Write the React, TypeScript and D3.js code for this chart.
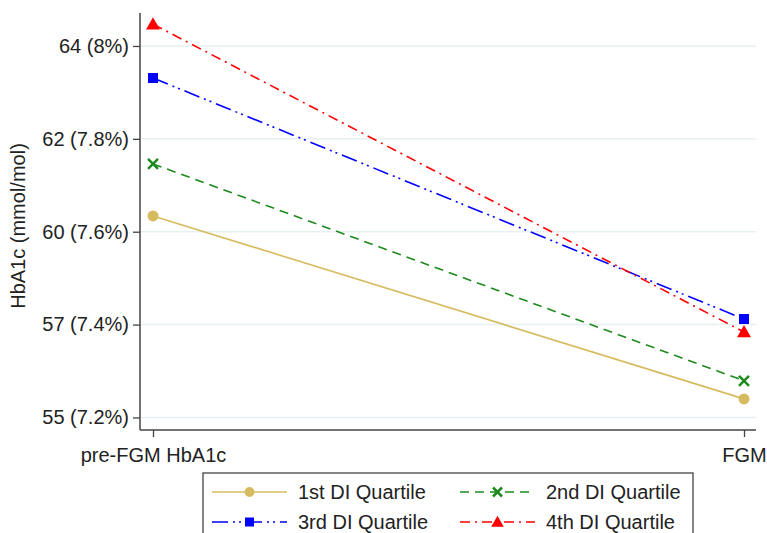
import React, { useEffect, useRef } from 'react';
import * as d3 from 'd3';

// HbA1c in %
const timepoints = ['pre-FGM HbA1c', 'FGM'];
const q1 = [7.634, 7.240];
const q2 = [7.746, 7.279];
const q3 = [7.931, 7.412];
const q4 = [8.047, 7.384];
const yTicks = [7.2, 7.4, 7.6, 7.8, 8.0];
const yTickLabels = ['55 (7.2%)', '57 (7.4%)', '60 (7.6%)', '62 (7.8%)', '64 (8%)'];

const seriesList = [
    { name: '1st DI Quartile', values: q1, color: '#d6bb5e', dash: null, marker: 'circle' },
    { name: '2nd DI Quartile', values: q2, color: '#1c8a1c', dash: '9,6', marker: 'cross' },
    { name: '3rd DI Quartile', values: q3, color: '#0000ff', dash: '16,5,2,4,2,5', marker: 'square' },
    { name: '4th DI Quartile', values: q4, color: '#ff0000', dash: '10,5,2,5', marker: 'triangle' },
];

const W = 767;
const H = 533;
const FONT = 'Liberation Sans, Arial, sans-serif';
const FS = 20;

const App = () => {
    const svgRef = useRef<SVGSVGElement>(null);

    useEffect(() => {
        const svg = d3.select(svgRef.current);
        svg.selectAll('*').remove();

        const left = 140, right = 756, top = 13, bottom = 430;

        const x = d3.scalePoint().domain(timepoints).range([153, 744]);
        const y = d3.scaleLinear().domain([7.173, 8.071]).range([bottom, top]);

        // gridlines
        svg.append('g')
            .selectAll('line')
            .data(yTicks)
            .enter()
            .append('line')
            .attr('x1', left)
            .attr('x2', right)
            .attr('y1', d => y(d))
            .attr('y2', d => y(d))
            .attr('stroke', '#e6eff1')
            .attr('stroke-width', 1.5);

        // y axis
        const yAxis = svg.append('g')
            .attr('transform', `translate(${left},0)`)
            .call(d3.axisLeft(y).tickValues(yTicks).tickSize(7).tickPadding(4)
                .tickFormat((d, i) => yTickLabels[i]));
        yAxis.select('.domain').remove();
        yAxis.selectAll('line').attr('stroke', '#444').attr('stroke-width', 1.3);
        yAxis.selectAll('text').attr('font-size', FS).attr('font-family', FONT).attr('fill', '#222');
        svg.append('line')
            .attr('x1', left).attr('x2', left).attr('y1', top).attr('y2', bottom)
            .attr('stroke', '#444').attr('stroke-width', 1.5);

        // x axis
        const xAxis = svg.append('g')
            .attr('transform', `translate(0,${bottom})`)
            .call(d3.axisBottom(x).tickSize(7).tickPadding(11));
        xAxis.select('.domain').remove();
        xAxis.selectAll('line').attr('stroke', '#444').attr('stroke-width', 1.3);
        xAxis.selectAll('text').attr('font-size', FS).attr('font-family', FONT).attr('fill', '#222');
        svg.append('line')
            .attr('x1', left).attr('x2', right).attr('y1', bottom).attr('y2', bottom)
            .attr('stroke', '#444').attr('stroke-width', 1.5);

        // y title
        svg.append('text')
            .attr('transform', `translate(25,226) rotate(-90)`)
            .attr('text-anchor', 'middle')
            .attr('font-size', FS)
            .attr('font-family', FONT)
            .attr('fill', '#222')
            .text('HbA1c (mmol/mol)');

        const drawMarker = (g, type, cx, cy, color, scale = 1) => {
            if (type === 'circle') {
                g.append('circle').attr('cx', cx).attr('cy', cy).attr('r', 5.5 * scale).attr('fill', color);
            } else if (type === 'square') {
                const s = 10 * scale;
                g.append('rect').attr('x', cx - s / 2).attr('y', cy - s / 2).attr('width', s).attr('height', s).attr('fill', color);
            } else if (type === 'triangle') {
                const s = 7 * scale;
                g.append('path')
                    .attr('d', `M${cx},${cy - s}L${cx + s * 1.0},${cy + s * 0.75}L${cx - s * 1.0},${cy + s * 0.75}Z`)
                    .attr('fill', color);
            } else if (type === 'cross') {
                const s = 5 * scale;
                g.append('path')
                    .attr('d', `M${cx - s},${cy - s}L${cx + s},${cy + s}M${cx - s},${cy + s}L${cx + s},${cy - s}`)
                    .attr('stroke', color).attr('stroke-width', 2.5);
            }
        };

        const line = d3.line<number>()
            .x((d, i) => x(timepoints[i]))
            .y(d => y(d));

        seriesList.forEach(s => {
            const g = svg.append('g');
            g.append('path')
                .datum(s.values)
                .attr('d', line)
                .attr('fill', 'none')
                .attr('stroke', s.color)
                .attr('stroke-width', 1.6)
                .attr('stroke-dasharray', s.dash);
            s.values.forEach((v, i) => drawMarker(g, s.marker, x(timepoints[i]), y(v), s.color));
        });

        // legend
        const lg = svg.append('g');
        lg.append('rect')
            .attr('x', 203).attr('y', 473).attr('width', 490).attr('height', 75)
            .attr('fill', 'white').attr('stroke', '#444').attr('stroke-width', 1.3);
        const cols = [212, 460];
        const rows = [492, 522];
        seriesList.forEach((s, i) => {
            const lx = cols[i % 2];
            const ly = rows[Math.floor(i / 2)];
            lg.append('line')
                .attr('x1', lx).attr('x2', lx + 75).attr('y1', ly).attr('y2', ly)
                .attr('stroke', s.color).attr('stroke-width', 1.6)
                .attr('stroke-dasharray', s.dash);
            drawMarker(lg, s.marker, lx + 37.5, ly, s.color, 0.9);
            lg.append('text')
                .attr('x', lx + 86).attr('y', ly).attr('dy', '0.35em')
                .attr('font-size', FS).attr('font-family', FONT).attr('fill', '#222')
                .text(s.name);
        });
    }, []);

    return (
        <svg ref={svgRef} width={W} height={H}
            style={{ position: 'absolute', left: 0, top: 0, background: 'white' }}></svg>
    );
};

export default App;
